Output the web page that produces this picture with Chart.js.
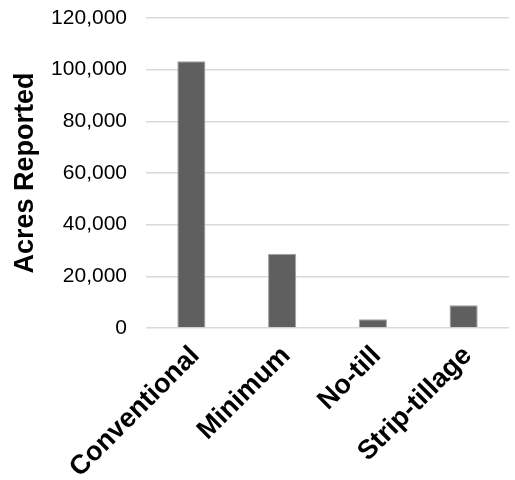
<!DOCTYPE html>
<html>
<head>
<meta charset="utf-8">
<script src="https://cdn.jsdelivr.net/npm/chart.js@4.4.0/dist/chart.umd.min.js"></script>
<style>
  html, body { margin: 0; padding: 0; background: #fff; }
  #wrap { width: 515px; height: 480px; }
</style>
</head>
<body>
<div id="wrap"><canvas id="chart" width="515" height="480"></canvas></div>
<script>
// Tillage practice and acres reported
const categories = ["Conventional", "Minimum", "No-till", "Strip-tillage"];
const acres = [103300, 28700, 3400, 8800];

const ctx = document.getElementById("chart");

new Chart(ctx, {
  type: "bar",
  data: {
    labels: categories,
    datasets: [{
      data: acres,
      backgroundColor: "#5f5f5f",
      borderColor: "#a0a0a0",
      borderWidth: 1,
      barPercentage: 0.31,
      categoryPercentage: 1
    }]
  },
  options: {
    responsive: false,
    animation: false,
    layout: { padding: { top: 18, right: 6, left: 0, bottom: 0 } },
    plugins: {
      legend: { display: false },
      tooltip: { enabled: false }
    },
    scales: {
      x: {
        grid: { display: false },
        border: { display: false },
        ticks: {
          color: "#000",
          minRotation: 45,
          maxRotation: 45,
          padding: 4,
          labelOffset: 4,
          font: { family: "'Liberation Sans', Arial, sans-serif", size: 27, weight: "bold" }
        },
        afterFit: (scale) => { scale.height = 152; }
      },
      y: {
        min: 0,
        max: 120000,
        border: { display: false },
        // invisible tick marks keep the labels clear of the plot
        grid: { color: "#d9d9d9", lineWidth: 1.5, drawTicks: true, tickLength: 19, tickColor: "rgba(0,0,0,0)" },
        ticks: {
          stepSize: 20000,
          color: "#000",
          padding: 0,
          font: { family: "'Liberation Sans', Arial, sans-serif", size: 21 }
        },
        title: {
          display: true,
          text: "Acres Reported",
          color: "#000",
          padding: { top: 9, bottom: 0 },
          font: { family: "'Liberation Sans', Arial, sans-serif", size: 27, weight: "bold" }
        },
        afterFit: (scale) => { scale.width = 146; }
      }
    }
  }
});
</script>
</body>
</html>
